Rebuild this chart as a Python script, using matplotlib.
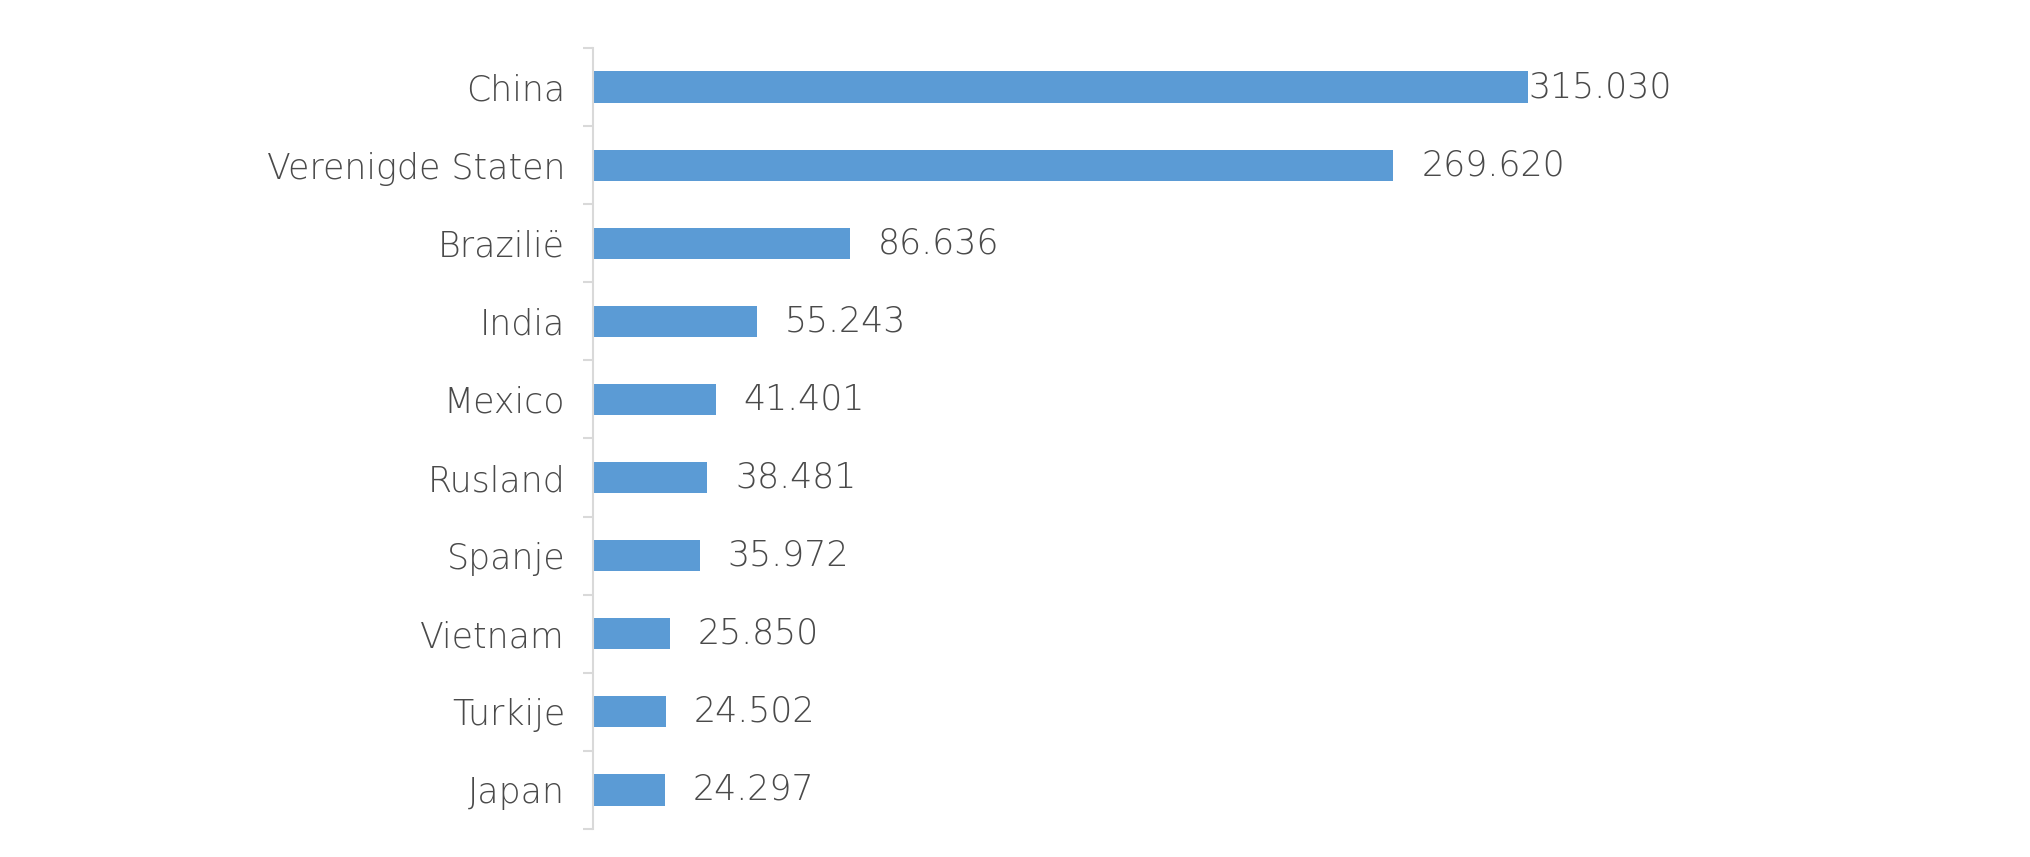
import numpy as np
import matplotlib.pyplot as plt

# ------------------------------------------------------------
# DATA
# ------------------------------------------------------------
countries = ["China", "Verenigde Staten", "Brazilië", "India", "Mexico",
             "Rusland", "Spanje", "Vietnam", "Turkije", "Japan"]
values = [315030, 269620, 86636, 55243, 41401,
          38481, 35972, 25850, 24502, 24297]
value_labels = ["315.030", "269.620", "86.636", "55.243", "41.401",
                "38.481", "35.972", "25.850", "24.502", "24.297"]

# ------------------------------------------------------------
# PLOT
# ------------------------------------------------------------
plt.rcParams['font.family'] = ['DejaVu Sans']
text_color = '#4a4a4a'

fig = plt.figure(figsize=(20.3, 8.57), dpi=100)
ax = fig.add_axes([0.2921, 0.0327, 0.58, 0.9113])

y = np.arange(len(countries))
ax.barh(y, values, height=0.4, color='#5b9bd5')

ax.set_ylim(len(countries) - 0.5, -0.5)
ax.set_xlim(0, 396600)

ax.set_yticks(y)
ax.set_yticklabels(countries, fontsize=25, color=text_color, fontweight='light')
ax.set_yticks(np.arange(-0.5, len(countries), 1), minor=True)
ax.tick_params(axis='y', which='major', length=0, pad=20)
ax.tick_params(axis='y', which='minor', length=7.5, width=1.5, color='#d9d9d9')
ax.set_xticks([])

for side in ['top', 'right', 'bottom']:
    ax.spines[side].set_visible(False)
ax.spines['left'].set_color('#d9d9d9')
ax.spines['left'].set_linewidth(1.5)

# value labels (the top one sits flush against its bar)
for i, (v, lab) in enumerate(zip(values, value_labels)):
    off = 0 if v == max(values) else 20
    ax.annotate(lab, xy=(v, i), xytext=(off, 0), textcoords='offset points',
                va='center', ha='left', fontsize=25, color=text_color,
                fontweight='light')

fig.savefig('out.png', dpi=100, facecolor='white')
